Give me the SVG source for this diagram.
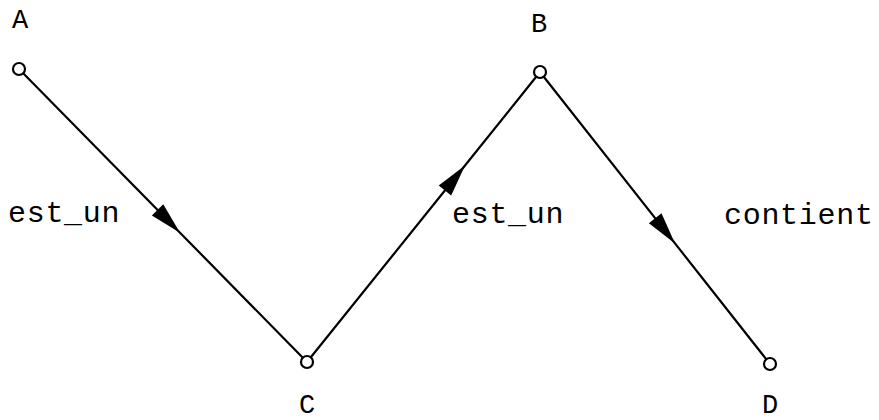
<svg xmlns="http://www.w3.org/2000/svg" width="879" height="420" viewBox="0 0 879 420">
  <style>
    .edge { fill: none; stroke: #000; stroke-width: 2.2; marker-mid: url(#arrow); }
    .node circle { fill: #fff; stroke: #000; stroke-width: 2.2; }
    .nlabel { font-family: "Liberation Mono", "DejaVu Sans Mono", monospace; font-size: 27px; fill: #000; text-anchor: middle; }
    .elabel { font-family: "Liberation Mono", "DejaVu Sans Mono", monospace; font-size: 30px; fill: #000; letter-spacing: 0.7px; }
  </style>
  <defs>
    <marker id="arrow" markerUnits="userSpaceOnUse" markerWidth="36" markerHeight="20" viewBox="-34 -10 36 20" refX="0" refY="0" orient="auto">
      <path d="M0,0 L-32,-8 L-32,8 Z" fill="#000"/>
    </marker>
  </defs>
  <rect width="879" height="420" fill="#fff"/>
  <g id="connectors">
    <path class="edge" d="M19,69 L180,232.7 L307,362"/>
    <path class="edge" d="M307,362 L465,165.5 L540,72"/>
    <path class="edge" d="M540,72 L675,243.4 L770,364"/>
    <text class="elabel" x="8" y="222">est_un</text>
    <text class="elabel" x="452" y="223">est_un</text>
    <text class="elabel" x="724" y="224">contient</text>
  </g>
  <g id="A" class="node">
    <circle cx="19" cy="69" r="6"/>
    <text class="nlabel" x="20" y="28">A</text>
  </g>
  <g id="B" class="node">
    <circle cx="540" cy="72" r="6"/>
    <text class="nlabel" x="539" y="32">B</text>
  </g>
  <g id="C" class="node">
    <circle cx="307" cy="362" r="6"/>
    <text class="nlabel" x="307" y="413">C</text>
  </g>
  <g id="D" class="node">
    <circle cx="770" cy="364" r="6"/>
    <text class="nlabel" x="770" y="413">D</text>
  </g>
</svg>
